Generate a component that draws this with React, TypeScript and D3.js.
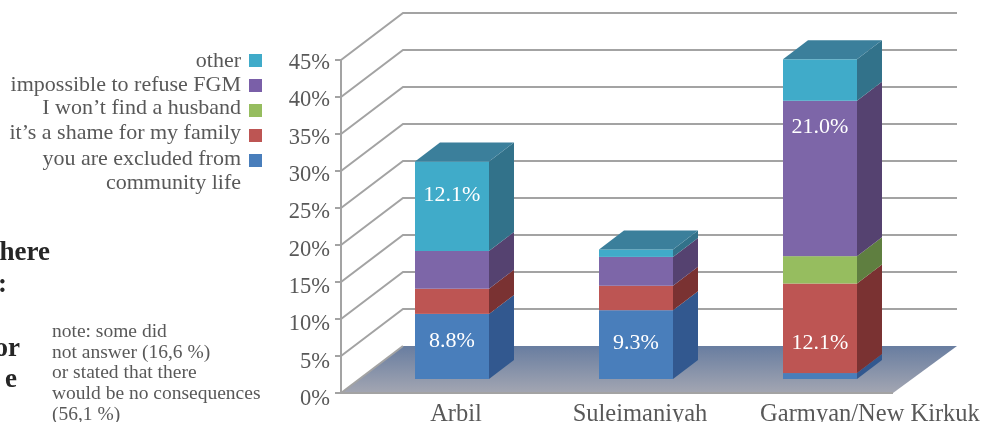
import React from "react";
import * as d3 from "d3";

const categories = ["Arbil", "Suleimaniyah", "Garmyan/New Kirkuk"];
const seriesNames = ["you are excluded from community life", "it's a shame for my family", "I won't find a husband", "impossible to refuse FGM", "other"];
const excluded = [8.8, 9.3, 0.8];
const shame = [3.4, 3.3, 12.1];
const husband = [0, 0, 3.7];
const refuse = [5.1, 3.9, 21.0];
const other = [12.1, 1.0, 5.6];
const seriesValues = [excluded, shame, husband, refuse, other];
const yTicks = [0, 5, 10, 15, 20, 25, 30, 35, 40, 45];
const labelled = [
  { cat: 0, series: 0, text: "8.8%", y: 347 },
  { cat: 0, series: 4, text: "12.1%", y: 201 },
  { cat: 1, series: 0, text: "9.3%", y: 349 },
  { cat: 2, series: 1, text: "12.1%", y: 349 },
  { cat: 2, series: 3, text: "21.0%", y: 132.5 },
];
const legendRows = [
  { lines: ["other"], color: "#3fabc9", box: 54, base: [67] },
  { lines: ["impossible to refuse FGM"], color: "#7a5fa8", box: 79, base: [91] },
  { lines: ["I won\u2019t find a husband"], color: "#96bd5f", box: 104, base: [114] },
  { lines: ["it\u2019s a shame for my family"], color: "#bd5452", box: 129, base: [139] },
  { lines: ["you are excluded from", "community life"], color: "#4a7ebb", box: 154, base: [165, 189] },
];
const noteLines = ["note: some did", "not answer (16,6 %)", "or stated that there", "would be no consequences", "(56,1 %)"];
const clippedBold = [
  { t: "here", y: 260, end: 50 },
  { t: ":", y: 291.5, end: 7 },
  { t: "or", y: 356, end: 20 },
  { t: "e", y: 387, end: 17 },
];

const front = ["#4a7ebb", "#bd5452", "#96bd5f", "#7d66a8", "#3fabc9"];
const side = ["#30598f", "#7a3030", "#5f7f3f", "#54426f", "#33728a"];
const catLabelX = [456, 640, 870];
const SERIF = "'Liberation Serif', serif";
const TEXT = "#595959";

const axisLeft = 341, axisTop = 60, axisBottom = 393;
const wallDx = 62, wallDy = -47, gridRight = 957;
const barDepthX = 25, barDepthY = -19, barBase = 379;

export default function App() {
  const pxY = d3.scaleLinear().domain([0, 45]).range([axisBottom, axisTop]);
  const labelY = d3.scaleLinear().domain([0, 45]).range([405, 69]);
  const barY = (v: number) => barBase - (pxY(0) - pxY(v));
  const x = d3.scaleBand<number>().domain([0, 1, 2]).range([415, 857]).paddingInner(110 / 184).paddingOuter(0);
  const w = x.bandwidth();
  return (
    <svg width={985} height={422} style={{ position: "fixed", left: 0, top: 0, background: "#fff" }} fontFamily={SERIF}>
      <defs>
        <linearGradient id="floor" x1="0" y1="0" x2="0" y2="1">
          <stop offset="0" stopColor="#687da0" />
          <stop offset="1" stopColor="#a3a6b2" />
        </linearGradient>
        <filter id="soft" x="-5%" y="-5%" width="110%" height="110%">
          <feGaussianBlur stdDeviation="0.45" />
        </filter>
      </defs>
      <g filter="url(#soft)">
        <polygon
          points={`${axisLeft},${axisBottom} 893,${axisBottom} ${gridRight},${axisBottom + wallDy} ${axisLeft + wallDx},${axisBottom + wallDy}`}
          fill="url(#floor)"
        />
        {yTicks.map((t) => {
          const y = pxY(t);
          return (
            <g key={t}>
              <path
                d={`M${axisLeft},${y}L${axisLeft + wallDx},${y + wallDy}` + (t > 0 ? `L${gridRight},${y + wallDy}` : "")}
                fill="none"
                stroke="#a3a3a3"
                strokeWidth={2}
              />
              <line x1={axisLeft - 6} x2={axisLeft} y1={y} y2={y} stroke="#a3a3a3" strokeWidth={2} />
              <text x={330} y={labelY(t)} textAnchor="end" fontSize={22.5} fill={TEXT}>{t}%</text>
            </g>
          );
        })}
        <line x1={axisLeft} x2={axisLeft} y1={axisTop} y2={axisBottom} stroke="#a3a3a3" strokeWidth={2} />
        <line x1={axisLeft} x2={893} y1={axisBottom} y2={axisBottom} stroke="#a3a3a3" strokeWidth={2} />

        {categories.map((c, i) => {
          const x0 = x(i)!;
          const x1 = x0 + w;
          let cum = 0;
          const segs = seriesValues.map((vals, s) => {
            const a = cum;
            cum += vals[i];
            return { s, a, b: cum, v: vals[i] };
          }).filter((d) => d.v > 0);
          const topY = barY(cum);
          return (
            <g key={c}>
              {segs.map((d) => (
                <g key={d.s}>
                  <rect x={x0} width={w} y={barY(d.b)} height={barY(d.a) - barY(d.b)} fill={front[d.s]} />
                  <polygon
                    points={`${x1},${barY(d.a)} ${x1 + barDepthX},${barY(d.a) + barDepthY} ${x1 + barDepthX},${barY(d.b) + barDepthY} ${x1},${barY(d.b)}`}
                    fill={side[d.s]}
                  />
                </g>
              ))}
              <polygon
                points={`${x0},${topY} ${x1},${topY} ${x1 + barDepthX},${topY + barDepthY} ${x0 + barDepthX},${topY + barDepthY}`}
                fill="#3b7f9b"
              />
            </g>
          );
        })}
        {labelled.map((l) => (
          <text key={l.text + l.cat} x={x(l.cat)! + w / 2} y={l.y} textAnchor="middle" fontSize={22} fill="#fff">{l.text}</text>
        ))}
        {categories.map((c, i) => (
          <text key={c} x={catLabelX[i]} y={421} textAnchor="middle" fontSize={24.5} fill={TEXT}>{c}</text>
        ))}
        {legendRows.map((r) => (
          <g key={r.color}>
            <rect x={249} y={r.box} width={13} height={13} fill={r.color} />
            {r.lines.map((t, j) => (
              <text key={t} x={241} y={r.base[j]} textAnchor="end" fontSize={22} fill={TEXT}>{t}</text>
            ))}
          </g>
        ))}
        {noteLines.map((t, j) => (
          <text key={t} x={52} y={337 + j * 20.7} fontSize={19.5} fill={TEXT}>{t}</text>
        ))}
        {clippedBold.map((b) => (
          <text key={b.t} x={b.end} y={b.y} textAnchor="end" fontSize={27} fontWeight={700} fill="#262626">{b.t}</text>
        ))}
      </g>
    </svg>
  );
}
